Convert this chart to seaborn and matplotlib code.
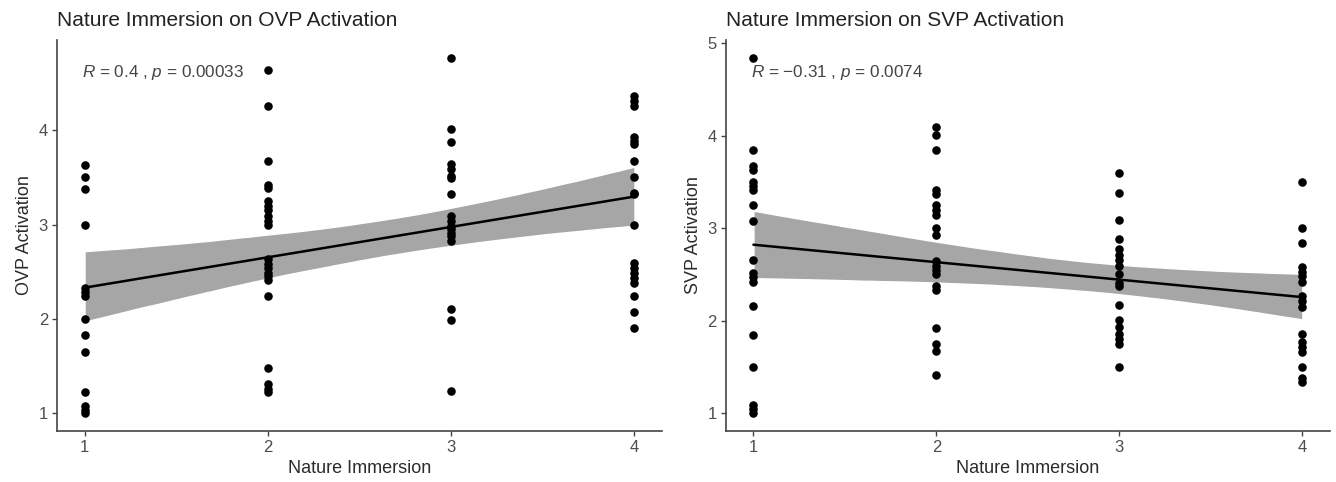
import numpy as np
import pandas as pd
import matplotlib
matplotlib.use("Agg")
import matplotlib.pyplot as plt
import seaborn as sns
from matplotlib.collections import PolyCollection

# values, grouped by nature immersion level
immersion_levels = [1, 2, 3, 4]
ovp_by_level = [
    [3.63, 3.50, 3.38, 3.00, 2.33, 2.28, 2.24, 2.00, 1.83, 1.65, 1.22, 1.08, 1.03, 1.00],
    [4.64, 4.26, 3.67, 3.42, 3.39, 3.25, 3.20, 3.15, 3.09, 3.04, 3.00, 2.63, 2.58, 2.54,
     2.49, 2.45, 2.41, 2.24, 1.48, 1.31, 1.26, 1.22],
    [4.77, 4.01, 3.88, 3.64, 3.59, 3.52, 3.49, 3.33, 3.09, 3.04, 2.99, 2.95, 2.91, 2.88,
     2.83, 2.11, 1.99, 1.24],
    [4.36, 4.31, 4.26, 3.93, 3.89, 3.86, 3.67, 3.50, 3.34, 3.32, 3.00, 2.59, 2.54, 2.49,
     2.43, 2.38, 2.24, 2.07, 1.90],
]
svp_by_level = [
    [4.84, 3.84, 3.67, 3.63, 3.50, 3.45, 3.41, 3.25, 3.08, 2.66, 2.51, 2.47, 2.42, 2.16,
     1.84, 1.50, 1.09, 1.04, 1.00],
    [4.09, 4.01, 3.84, 3.41, 3.37, 3.25, 3.19, 3.14, 3.00, 2.93, 2.64, 2.59, 2.55, 2.50,
     2.37, 2.33, 1.92, 1.75, 1.67, 1.41],
    [3.59, 3.38, 3.09, 2.88, 2.77, 2.71, 2.66, 2.59, 2.50, 2.41, 2.37, 2.17, 2.01, 1.93,
     1.85, 1.80, 1.75, 1.50],
    [3.50, 3.00, 2.84, 2.58, 2.53, 2.48, 2.42, 2.27, 2.21, 2.15, 1.85, 1.77, 1.72, 1.66,
     1.50, 1.38, 1.34],
]
ovp_stats = ("0.4", "0.00033")
svp_stats = ("\u22120.31", "0.0074")

sns.set_style("ticks")
plt.rcParams["font.family"] = ["Liberation Sans", "DejaVu Sans"]
plt.rcParams["mathtext.fontset"] = "custom"
plt.rcParams["mathtext.it"] = "Liberation Sans:italic"
plt.rcParams["mathtext.rm"] = "Liberation Sans"


def to_frame(groups, col):
    """Long table: one row per participant."""
    rows = [(lvl, v) for lvl, vals in zip(immersion_levels, groups) for v in vals]
    return pd.DataFrame(rows, columns=["Nature Immersion", col])


def plot_panel(ax, df, col, title, stats):
    sns.regplot(data=df, x="Nature Immersion", y=col, ax=ax, ci=95, n_boot=20000, seed=3,
                scatter_kws=dict(s=38, color="black", linewidths=0, alpha=1, zorder=3),
                line_kws=dict(color="black", lw=1.8, zorder=4))
    # grey confidence band like geom_smooth
    for c in ax.collections:
        if isinstance(c, PolyCollection):
            c.set_facecolor("#a6a6a6")
            c.set_alpha(1)
            c.set_zorder(2)

    lo, hi = df[col].min(), df[col].max()
    pad = 0.05 * (hi - lo)
    ax.set_ylim(lo - pad, hi + pad)
    ax.set_xlim(0.85, 4.15)
    ax.set_xticks(immersion_levels)
    ax.set_yticks(np.arange(1, int(np.floor(hi + pad)) + 1))

    ax.text(0.042, 0.917, r"$\mathit{R}$ = " + stats[0] + r" , $\mathit{p}$ = " + stats[1],
            transform=ax.transAxes, va="center", ha="left", fontsize=12.3, color="#454545")

    ax.set_title(title, loc="left", fontsize=15, color="#222222", pad=10)
    ax.set_xlabel("Nature Immersion", fontsize=13, color="#2b2b2b", labelpad=4)
    ax.set_ylabel(col, fontsize=13, color="#2b2b2b", labelpad=4)
    ax.tick_params(axis="both", labelsize=12, labelcolor="#4d4d4d", color="#444444",
                   length=3.5, width=1, pad=3)
    sns.despine(ax=ax)
    for side in ["left", "bottom"]:
        ax.spines[side].set_color("#444444")
        ax.spines[side].set_linewidth(1.2)


fig = plt.figure(figsize=(13.36, 4.82), dpi=100)
ax1 = fig.add_axes([0.0427, 0.106, 0.4528, 0.811])
ax2 = fig.add_axes([0.5434, 0.106, 0.452, 0.811])

plot_panel(ax1, to_frame(ovp_by_level, "OVP Activation"), "OVP Activation",
           "Nature Immersion on OVP Activation", ovp_stats)
plot_panel(ax2, to_frame(svp_by_level, "SVP Activation"), "SVP Activation",
           "Nature Immersion on SVP Activation", svp_stats)

fig.savefig("out.png", dpi=100)
